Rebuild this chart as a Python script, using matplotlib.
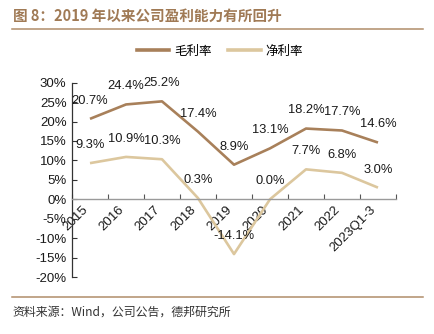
import matplotlib
matplotlib.use("Agg")
import matplotlib.pyplot as plt
from matplotlib.lines import Line2D
import numpy as np

categories = ["2015", "2016", "2017", "2018", "2019", "2020", "2021", "2022", "2023Q1-3"]
gross_margin = [20.7, 24.4, 25.2, 17.4, 8.9, 13.1, 18.2, 17.7, 14.6]
net_margin = [9.3, 10.9, 10.3, 0.3, -14.1, 0.0, 7.7, 6.8, 3.0]
series_names = ["毛利率", "净利率"]
yticks = [-20, -15, -10, -5, 0, 5, 10, 15, 20, 25, 30]

c_gross = "#a8805a"
c_net = "#dcc79e"
c_rule = "#b08d6a"
num_font = ["Liberation Sans", "DejaVu Sans"]
cjk_font = ["Noto Sans CJK SC", "DejaVu Sans"]

plt.rcParams['font.family'] = num_font

fig = plt.figure(figsize=(4.34, 3.34), dpi=100)
ax = fig.add_axes([72/434, 1-277/334, 324/434, (277-82.7)/334])

ax.spines['top'].set_visible(False)
ax.spines['right'].set_visible(False)
ax.spines['bottom'].set_position(('data', 0))
ax.spines['bottom'].set_color('#9a9a9a')
ax.spines['bottom'].set_linewidth(1.0)
ax.spines['left'].set_color('#333333')
ax.spines['left'].set_linewidth(0.9)
ax.patch.set_visible(False)

x = np.arange(len(categories))
ax.plot(x, gross_margin, color=c_gross, lw=1.9, solid_capstyle='butt')
ax.plot(x, net_margin, color=c_net, lw=1.9, solid_capstyle='butt')

for xi, v in zip(x, gross_margin):
    ax.annotate(f"{v:.1f}%", (xi, v), xytext=(0, 13), textcoords='offset points',
                ha='center', va='center', fontsize=9.3, color='#1a1a1a', family=num_font)
for xi, v in zip(x, net_margin):
    ax.annotate(f"{v:.1f}%", (xi, v), xytext=(0, 13), textcoords='offset points',
                ha='center', va='center', fontsize=9.3, color='#1a1a1a', family=num_font)

ax.set_xlim(-0.5, len(categories) - 0.5)
ax.set_ylim(-20, 30)
ax.set_yticks(yticks)

ax.set_xticks(x)
ax.set_xticks(np.arange(-0.5, len(categories)), minor=True)
ax.tick_params(axis='x', which='major', length=0, pad=3)
ax.tick_params(axis='x', which='minor', direction='in', length=3.5, color='#555555', width=0.8)
ax.tick_params(axis='y', direction='in', length=3.5, width=0.8, color='#333333', pad=4)
ax.set_yticklabels([f"{t}%" for t in yticks], fontsize=9.5, color='#1a1a1a')
ax.set_xticklabels(categories, rotation=45, ha='right', va='top', fontsize=9.5, color='#1a1a1a')

# title
fig.text(13/434, 1-16/334, "图 8：2019 年以来公司盈利能力有所回升", fontsize=10.5, fontweight='bold',
         color='#a07a55', family=cjk_font, ha='left', va='center')
fig.add_artist(Line2D([12/434, 423/434], [1-29/334, 1-29/334], color=c_rule, lw=1.1))
fig.add_artist(Line2D([12/434, 423/434], [1-297/334, 1-297/334], color=c_rule, lw=1.1))
fig.text(12/434, 1-312/334, "资料来源：Wind，公司公告，德邦研究所", fontsize=8.6,
         color='#333333', family=cjk_font, ha='left', va='center')

handles = [Line2D([], [], color=c_gross, lw=2.6), Line2D([], [], color=c_net, lw=2.6)]
leg = fig.legend(handles, series_names, loc='center', bbox_to_anchor=(220/434, 1-51/334),
                 ncol=2, frameon=False, handlelength=2.6, columnspacing=1.3, handletextpad=0.4,
                 prop={'family': cjk_font, 'size': 9})

fig.savefig("out.png", dpi=100)
